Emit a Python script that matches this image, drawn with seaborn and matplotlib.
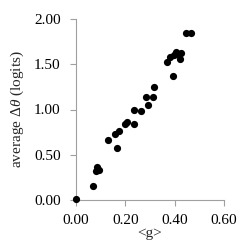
import matplotlib
matplotlib.use("Agg")
import matplotlib.pyplot as plt
import seaborn as sns
import pandas as pd

g_vals = [0.0, 0.068, 0.084, 0.082, 0.095, 0.13, 0.157, 0.168, 0.175, 0.2, 0.208,
          0.234, 0.235, 0.264, 0.285, 0.292, 0.312, 0.315, 0.37, 0.382, 0.393,
          0.397, 0.407, 0.415, 0.423, 0.427, 0.446, 0.468]
dtheta = [0.01, 0.16, 0.36, 0.32, 0.33, 0.66, 0.73, 0.58, 0.76, 0.84, 0.86,
          0.84, 0.99, 0.98, 1.14, 1.05, 1.14, 1.25, 1.53, 1.58, 1.37,
          1.60, 1.64, 1.61, 1.56, 1.62, 1.85, 1.85]
x_ticks = [0.0, 0.2, 0.4, 0.6]
y_ticks = [0.0, 0.5, 1.0, 1.5, 2.0]

df = pd.DataFrame({"g": g_vals, "dt": dtheta})

sns.set_style("white")
plt.rcParams['font.family'] = ['Liberation Serif', 'DejaVu Serif']
plt.rcParams['mathtext.fontset'] = 'custom'
plt.rcParams['mathtext.it'] = 'Liberation Serif:italic'
plt.rcParams['mathtext.rm'] = 'Liberation Serif'

fig = plt.figure(figsize=(2.5, 2.52), dpi=100)
ax = fig.add_axes([76/250, 1 - 200/252, 148/250, 181/252])
sns.scatterplot(data=df, x="g", y="dt", ax=ax, color="black", s=27, edgecolor="black",
                linewidth=0, clip_on=False, zorder=5)
ax.set_xlim(0, 0.6)
ax.set_ylim(0, 2.0)
ax.set_xticks(x_ticks)
ax.set_yticks(y_ticks)
ax.set_xticklabels([f"{v:.2f}" for v in x_ticks], fontsize=11)
ax.set_yticklabels([f"{v:.2f}" for v in y_ticks], fontsize=11)
ax.set_xlabel("<g>", fontsize=11, labelpad=0)
ax.set_ylabel(r"average $\Delta\theta$ (logits)", fontsize=11, labelpad=6)
for s in ["top", "right"]:
    ax.spines[s].set_visible(False)
for s in ["left", "bottom"]:
    ax.spines[s].set_color("#a0a0a0")
    ax.spines[s].set_linewidth(0.8)
ax.tick_params(axis="both", direction="out", length=4, width=0.8, color="#a0a0a0", labelcolor="black")
ax.tick_params(axis="x", bottom=True, pad=6)
ax.tick_params(axis="y", left=True, pad=7)
fig.savefig("out.png", dpi=100)
